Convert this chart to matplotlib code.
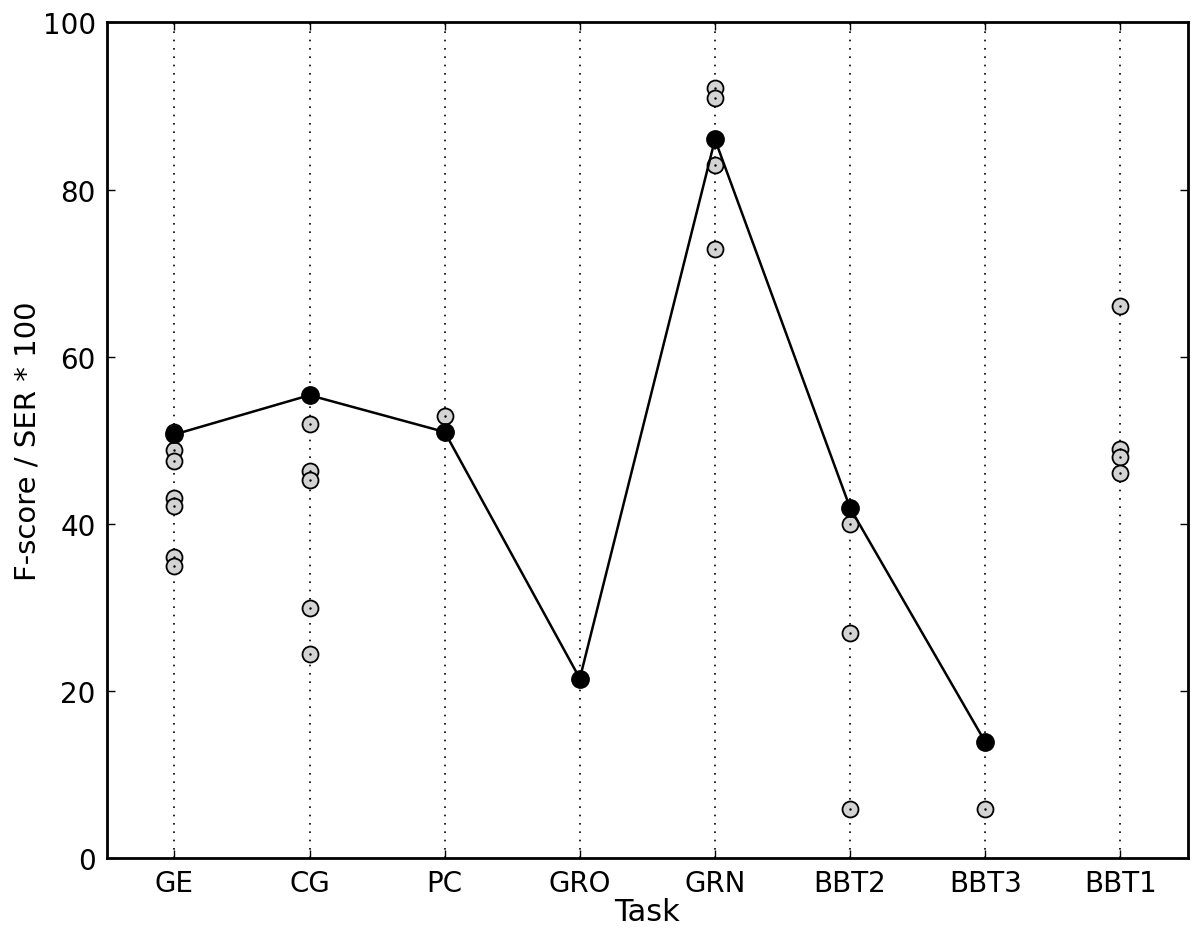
import matplotlib
matplotlib.use("Agg")
import matplotlib.pyplot as plt
import numpy as np

# tasks on the x axis
tasks = ["GE", "CG", "PC", "GRO", "GRN", "BBT2", "BBT3", "BBT1"]

# best score per task (black line), BBT1 has none
best = [50.7, 55.4, 51.0, 21.5, 86.0, 41.9, 13.9, None]

# individual system scores (grey circles)
ge_scores = [51.0, 48.9, 47.5, 43.1, 42.2, 36.0, 35.0]
cg_scores = [52.0, 46.3, 45.3, 29.9, 24.4]
pc_scores = [52.9]
gro_scores = []
grn_scores = [92.1, 91.0, 82.9, 72.9]
bbt2_scores = [40.0, 27.0, 5.9]
bbt3_scores = [5.9]
bbt1_scores = [66.1, 49.0, 48.0, 46.1]

all_scores = [ge_scores, cg_scores, pc_scores, gro_scores,
              grn_scores, bbt2_scores, bbt3_scores, bbt1_scores]

plt.rcParams["font.family"] = "DejaVu Sans"
fig = plt.figure(figsize=(12, 9.37), dpi=100)
ax = fig.add_axes([0.089, 0.083, 0.901, 0.892])

# grey points per task
for i, scores in enumerate(all_scores):
    if not scores:
        continue
    xs = [i] * len(scores)
    ax.plot(xs, scores, "o", color="#d3d3d3", markeredgecolor="black",
            markeredgewidth=1.3, markersize=11.5, zorder=3)
    ax.plot(xs, scores, ".", color="black", markersize=1.5, zorder=4)

# best line
bx = [i for i, v in enumerate(best) if v is not None]
by = [v for v in best if v is not None]
ax.plot(bx, by, "-o", color="black", linewidth=1.8, markersize=12.5, zorder=5)

ax.set_xlim(-0.5, 7.5)
ax.set_ylim(0, 100)
ax.set_xticks(range(len(tasks)))
ax.set_xticklabels(tasks)
ax.set_yticks([0, 20, 40, 60, 80, 100])
ax.xaxis.grid(True, linestyle=(0, (1, 4)), color="black", linewidth=1.2)
ax.set_axisbelow(True)
ax.tick_params(direction="in", length=6, width=1, labelsize=20,
               top=True, right=True, pad=8)
for s in ax.spines.values():
    s.set_linewidth(2)
ax.set_xlabel("Task", fontsize=22, labelpad=0)
ax.set_ylabel("F-score / SER * 100", fontsize=21, labelpad=1)

fig.savefig("out.png", dpi=100)
